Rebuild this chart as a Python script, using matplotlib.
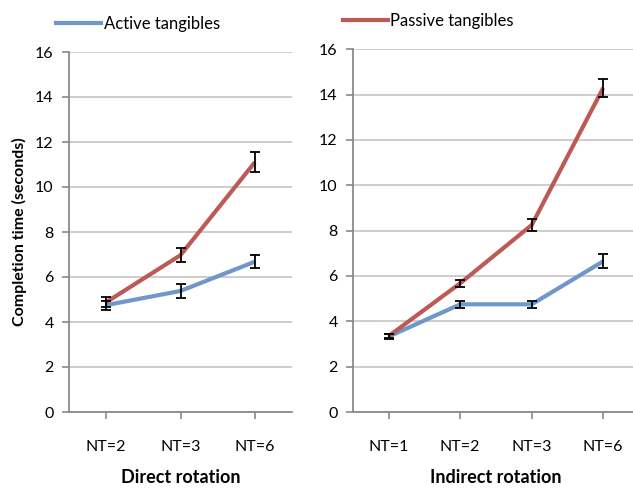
import matplotlib
matplotlib.use("Agg")
import matplotlib.pyplot as plt
import numpy as np

plt.rcParams['font.family'] = ['Lato', 'DejaVu Sans']

# direct rotation
direct_cats = ['NT=2', 'NT=3', 'NT=6']
direct_active = [4.75, 5.38, 6.68]
direct_active_err = [0.2, 0.3, 0.3]
direct_passive = [4.88, 6.97, 11.1]
direct_passive_err = [0.22, 0.3, 0.45]

# indirect rotation
indirect_cats = ['NT=1', 'NT=2', 'NT=3', 'NT=6']
indirect_active = [3.33, 4.75, 4.75, 6.65]
indirect_active_err = [0.12, 0.16, 0.15, 0.3]
indirect_passive = [3.35, 5.68, 8.25, 14.3]
indirect_passive_err = [0.1, 0.15, 0.25, 0.4]

blue = '#6F97CA'
red = '#BD5A56'
grid_c = '#C9C9C9'
axis_c = '#8A8A8A'

fig = plt.figure(figsize=(6.33, 4.9), dpi=100)
ax1 = fig.add_axes([69/633, 1-412/490, 223/633, 360/490])
ax2 = fig.add_axes([353/633, 1-412/490, 286/633, 362.7/490])


def draw(ax, cats, act, act_e, pas, pas_e):
    x = np.arange(len(cats))
    ax.plot(x, act, color=blue, lw=3, solid_capstyle='butt', zorder=3)
    ax.plot(x, pas, color=red, lw=3, solid_capstyle='butt', zorder=3)
    ax.errorbar(x, act, yerr=act_e, fmt='none', ecolor='black', elinewidth=1.3,
                capsize=3.5, capthick=1.3, zorder=4)
    ax.errorbar(x, pas, yerr=pas_e, fmt='none', ecolor='black', elinewidth=1.3,
                capsize=3.5, capthick=1.3, zorder=4)
    ax.set_xlim(-0.5, len(cats) - 0.5)
    ax.set_ylim(0, 16)
    ax.set_yticks(range(0, 17, 2))
    ax.set_xticks(x)
    ax.set_xticklabels(cats)
    ax.yaxis.grid(True, color=grid_c, lw=1.3)
    ax.set_axisbelow(True)
    for s in ['top', 'right']:
        ax.spines[s].set_visible(False)
    for s in ['left', 'bottom']:
        ax.spines[s].set_color(axis_c)
        ax.spines[s].set_linewidth(1.3)
    ax.tick_params(axis='both', colors=axis_c, labelcolor='black', labelsize=11.5,
                   length=5, width=1.2)
    ax.tick_params(axis='x', pad=15)
    ax.tick_params(axis='y', pad=6)


draw(ax1, direct_cats, direct_active, direct_active_err,
     direct_passive, direct_passive_err)
draw(ax2, indirect_cats, indirect_active, indirect_active_err,
     indirect_passive, indirect_passive_err)

ax1.set_ylabel('Completion time (seconds)', fontsize=11.5, fontweight='bold', labelpad=6)
ax1.set_xlabel('Direct rotation', fontsize=13, fontweight='bold', labelpad=11)
ax2.set_xlabel('Indirect rotation', fontsize=13, fontweight='bold', labelpad=11)

ax1.legend([plt.Line2D([], [], color=blue, lw=3)], ['Active tangibles'],
           loc='lower left', bbox_to_anchor=(56/633, 1-32/490), bbox_transform=fig.transFigure,
           frameon=False, fontsize=12, handlelength=2.7, handletextpad=0.15,
           borderaxespad=0, borderpad=0)
ax2.legend([plt.Line2D([], [], color=red, lw=3)], ['Passive tangibles'],
           loc='lower left', bbox_to_anchor=(343/633, 1-29/490), bbox_transform=fig.transFigure,
           frameon=False, fontsize=12, handlelength=2.7, handletextpad=0.15,
           borderaxespad=0, borderpad=0)

fig.savefig('out.png', dpi=100)
